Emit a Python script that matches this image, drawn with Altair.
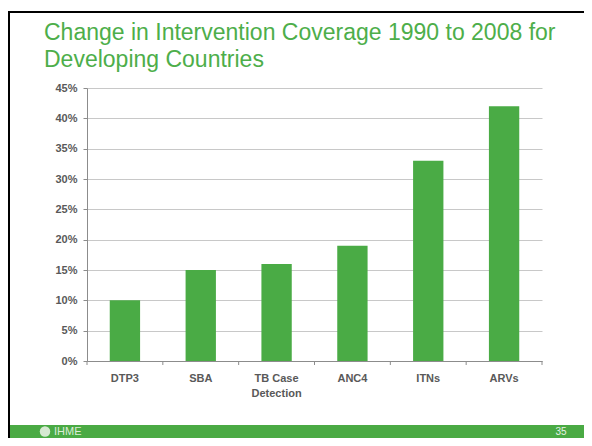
import altair as alt
import pandas as pd

categories = ["DTP3", "SBA", "TB Case\nDetection", "ANC4", "ITNs", "ARVs"]
values = [0.10, 0.15, 0.16, 0.19, 0.33, 0.42]
y_ticks = [0.0, 0.05, 0.10, 0.15, 0.20, 0.25, 0.30, 0.35, 0.40, 0.45]
cell_edges = [0, 1, 2, 3, 4, 5, 6]
title_lines = ["Change in Intervention Coverage 1990 to 2008 for", "Developing Countries"]
footer_logo = "IHME"
page_number = "35"

GREEN = "#4aab45"
TITLE_GREEN = "#4dae4a"
LABEL = "#595959"
FONT = "Liberation Sans"

W, H = 455, 273
CW, CH = 576, 430
PL, PT = 79, 80

df = pd.DataFrame({"cat": categories, "val": values})
one = pd.DataFrame({"k": [0]})

bars = alt.Chart(df).mark_bar(color=GREEN).encode(
    x=alt.X("cat:N", sort=categories,
            scale=alt.Scale(paddingInner=0.6, paddingOuter=0.3),
            axis=alt.Axis(title=None, labelAngle=0, ticks=False, domain=True,
                          domainColor="#8c8c8c", labelFont=FONT, labelFontSize=11,
                          labelFontWeight="bold", labelColor=LABEL, labelPadding=11,
                          labelLineHeight=15,
                          labelExpr="split(datum.label, '\\n')")),
    y=alt.Y("val:Q", scale=alt.Scale(domain=[0, 0.45], nice=False),
            axis=alt.Axis(title=None, values=y_ticks, format=".0%", grid=True,
                          gridColor="#c8c8c8", domainColor="#8c8c8c", tickColor="#8c8c8c",
                          tickSize=4, labelFont=FONT, labelFontSize=11,
                          labelFontWeight="bold", labelColor=LABEL, labelPadding=6)),
)

edges = alt.Chart(pd.DataFrame({"e": cell_edges})).mark_rule(color="#8c8c8c").encode(
    x=alt.X("e:Q", scale=alt.Scale(domain=[0, 6], nice=False), axis=None),
    y=alt.value(H), y2=alt.value(H + 4),
)

x_left = -PL
x_right = CW - PL
y_bottom = CH - PT
footer_top = 337

footer = alt.Chart(one).mark_rect(color="#4aaa44").encode(
    x=alt.value(x_left), x2=alt.value(x_right), y=alt.value(footer_top), y2=alt.value(y_bottom))
left_border = alt.Chart(one).mark_rect(color="#000000").encode(
    x=alt.value(x_left), x2=alt.value(x_left + 2), y=alt.value(-77), y2=alt.value(y_bottom))
top_border = alt.Chart(one).mark_rect(color="#000000").encode(
    x=alt.value(x_left), x2=alt.value(x_right), y=alt.value(-77), y2=alt.value(-75))

t1 = alt.Chart(one).mark_text(align="left", baseline="alphabetic", font=FONT,
                              fontSize=23, color=TITLE_GREEN).encode(
    x=alt.value(-43), y=alt.value(-48), text=alt.value(title_lines[0]))
t2 = alt.Chart(one).mark_text(align="left", baseline="alphabetic", font=FONT,
                              fontSize=23, color=TITLE_GREEN).encode(
    x=alt.value(-43), y=alt.value(-21), text=alt.value(title_lines[1]))

fy = (footer_top + y_bottom) / 2
logo = alt.Chart(one).mark_point(shape="circle", filled=True, size=110, opacity=1,
                                 color="#d6e9d2").encode(
    x=alt.value(-42), y=alt.value(fy))
logo_txt = alt.Chart(one).mark_text(align="left", baseline="middle", font=FONT,
                                    fontSize=11, color="#dcecd8").encode(
    x=alt.value(-33), y=alt.value(fy + 0.5), text=alt.value(footer_logo))
num = alt.Chart(one).mark_text(align="center", baseline="middle", font=FONT,
                               fontSize=10, color="#e6f2e4").encode(
    x=alt.value(474), y=alt.value(fy + 0.5), text=alt.value(page_number))

chart = alt.layer(footer, left_border, top_border, bars, edges, t1, t2, logo, logo_txt, num).resolve_scale(
    x="independent"
).properties(
    width=W, height=H,
    autosize=alt.AutoSizeParams(type="none"),
    padding={"left": PL, "top": PT, "right": CW - PL - W, "bottom": CH - PT - H},
    background="white",
).configure_view(stroke=None)

chart.save("out.html", embed_options={"renderer": "svg", "actions": False})
